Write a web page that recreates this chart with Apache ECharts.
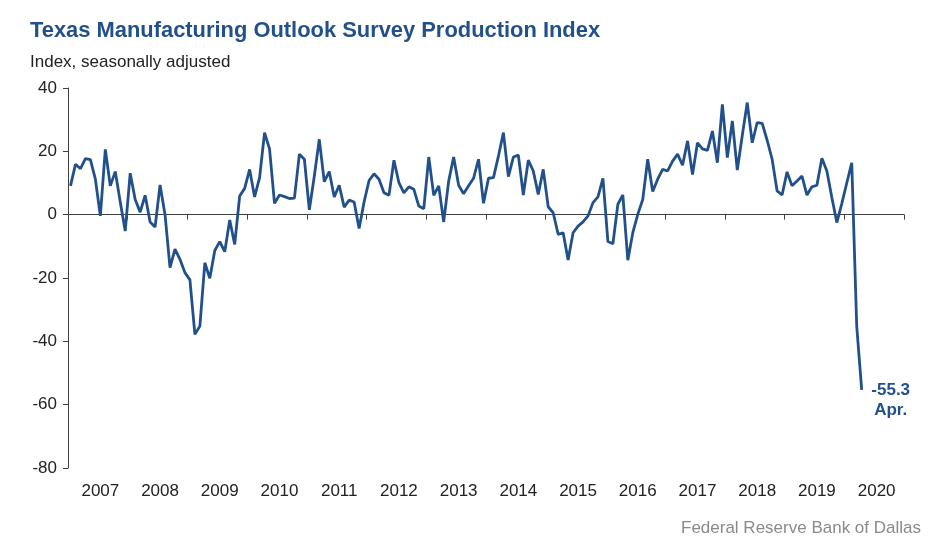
<!DOCTYPE html>
<html>
<head>
<meta charset="utf-8">
<script src="https://cdn.jsdelivr.net/npm/echarts@6/dist/echarts.min.js"></script>
<style>
html,body{margin:0;padding:0;background:#fff;}
#chart{width:943px;height:545px;}
</style>
</head>
<body>
<div id="chart"></div>
<script>
// Year labels (axis covers full years 2007-2020; data Jan 2007 - Apr 2020)
var years = ['2007','2008','2009','2010','2011','2012','2013','2014','2015','2016','2017','2018','2019','2020'];
var yTicks = {min: -80, max: 40, interval: 20};

// Production index, seasonally adjusted, by year
var v2007 = [9.1, 15.9, 14.5, 17.7, 17.4, 11.2, -0.4, 20.6, 9.1, 13.6, 4.0, -5.2];
var v2008 = [13.1, 4.8, 0.8, 6.1, -2.3, -3.9, 9.4, 0.0, -16.7, -10.9, -14.1, -18.3];
var v2009 = [-20.6, -37.8, -35.2, -15.2, -20.1, -11.3, -8.5, -11.7, -1.7, -9.4, 5.9, 8.3];
var v2010 = [14.3, 5.6, 11.7, 25.9, 20.8, 3.6, 6.2, 5.7, 5.1, 5.2, 19.1, 17.5];
var v2011 = [1.5, 12.2, 23.8, 10.4, 13.6, 5.6, 9.3, 2.4, 4.6, 4.0, -4.4, 4.0];
var v2012 = [10.8, 12.9, 11.2, 6.9, 6.1, 17.2, 10.1, 6.9, 8.8, 8.0, 2.7, 1.9];
var v2013 = [18.2, 6.1, 9.1, -2.3, 10.6, 18.2, 9.3, 6.6, 9.1, 11.5, 17.5, 3.6];
var v2014 = [11.5, 11.7, 18.5, 25.9, 12.0, 18.2, 18.8, 6.2, 17.2, 13.8, 6.4, 14.3];
var v2015 = [2.5, 0.6, -6.2, -5.7, -14.3, -5.7, -3.6, -2.3, -0.4, 3.8, 5.6, 11.5];
var v2016 = [-8.5, -9.2, 3.3, 6.2, -14.4, -5.7, 0.1, 4.8, 17.5, 7.3, 11.2, 14.3];
var v2017 = [13.8, 16.9, 19.1, 15.6, 23.3, 12.7, 22.7, 20.8, 20.3, 26.4, 16.4, 34.8];
var v2018 = [18.0, 29.6, 14.1, 25.0, 35.4, 22.7, 29.1, 28.8, 23.5, 17.5, 7.5, 6.2];
var v2019 = [13.5, 9.1, 10.6, 12.2, 6.2, 8.8, 9.3, 17.8, 13.8, 5.4, -2.5, 3.5];
var v2020 = [10.0, 16.4, -35.3, -55.3];
var lastMonthName = 'Apr.';

var values = [].concat(v2007, v2008, v2009, v2010, v2011, v2012, v2013, v2014,
                       v2015, v2016, v2017, v2018, v2019, v2020);

var categories = [];
years.forEach(function (y) {
  for (var m = 1; m <= 12; m++) categories.push(y + '-' + (m < 10 ? '0' + m : m));
});

var blue = '#22508a';
var chart = echarts.init(document.getElementById('chart'), null, {renderer: 'canvas'});
var font = "'Liberation Sans', Arial, Helvetica, sans-serif";

chart.setOption({
  animation: false,
  backgroundColor: '#ffffff',
  textStyle: {fontFamily: font},
  title: [
    {text: 'Texas Manufacturing Outlook Survey Production Index', left: 30, top: 20, padding: 0,
     textStyle: {fontSize: 21.9, fontWeight: 'bold', color: blue, fontFamily: font}},
    {text: 'Index, seasonally adjusted', left: 30, top: 54, padding: 0,
     textStyle: {fontSize: 17, fontWeight: 'normal', color: '#222', fontFamily: font}},
    {text: 'Federal Reserve Bank of Dallas', right: 22, top: 520, padding: 0,
     textStyle: {fontSize: 17, fontWeight: 'normal', color: '#8a8a8a', fontFamily: font}}
  ],
  grid: {left: 68, right: 39, top: 88, bottom: 77, containLabel: false},
  xAxis: [
    {
      type: 'category', data: categories, boundaryGap: true, position: 'bottom',
      axisLine: {show: true, onZero: true, lineStyle: {color: '#404040', width: 1}},
      axisTick: {show: true, interval: 11, length: 5, lineStyle: {color: '#404040'}},
      axisLabel: {show: false},
      splitLine: {show: false}
    },
    {
      type: 'category', data: categories, boundaryGap: true, position: 'bottom',
      axisLine: {show: false, onZero: false},
      axisTick: {show: false},
      axisLabel: {
        show: true, fontSize: 17, color: '#222', margin: 15, fontFamily: font,
        interval: function (idx) { return idx % 12 === 6; },
        formatter: function (val) { return val.slice(0, 4); }
      },
      splitLine: {show: false}
    }
  ],
  yAxis: {
    type: 'value', min: yTicks.min, max: yTicks.max, interval: yTicks.interval,
    axisLine: {show: true, lineStyle: {color: '#404040', width: 1}},
    axisTick: {show: true, length: 5, lineStyle: {color: '#404040'}},
    axisLabel: {fontSize: 17, color: '#222', margin: 11, fontFamily: font},
    splitLine: {show: false}
  },
  series: [{
    type: 'line', xAxisIndex: 0, data: values, showSymbol: false, symbol: 'none',
    lineStyle: {color: blue, width: 2.8}, itemStyle: {color: blue},
    endLabel: {
      show: true, formatter: function (p) { return p.value.toFixed(1) + '\n' + lastMonthName; },
      fontSize: 17, fontWeight: 'bold', color: blue, lineHeight: 20, align: 'center',
      distance: 5, offset: [24, 11], fontFamily: font
    }
  }]
});
</script>
</body>
</html>
